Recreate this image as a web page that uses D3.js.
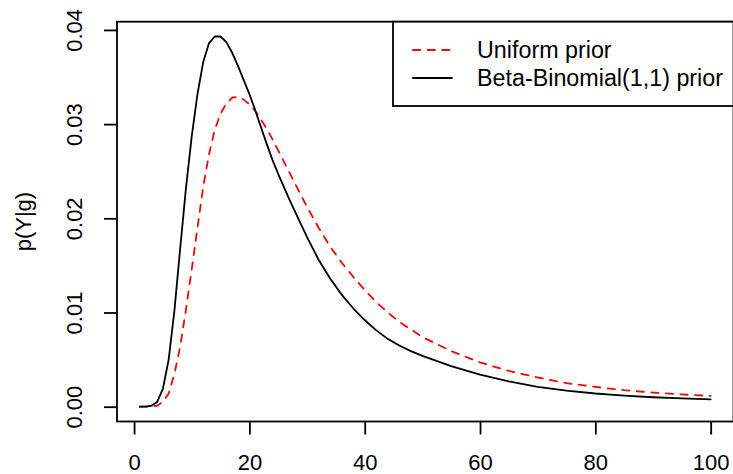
<!DOCTYPE html>
<html>
<head>
<meta charset="utf-8">
<script src="https://cdn.jsdelivr.net/npm/d3@7"></script>
<style>
  html, body { margin: 0; padding: 0; background: #fff; }
  svg { display: block; }
  text { font-family: "Liberation Sans", Arial, Helvetica, sans-serif; }
</style>
</head>
<body>
<svg id="chart" width="733" height="474"></svg>
<script>
// ---- data ----
const gValues = [1,2,3,4,5,6,7,8,9,10,11,12,13,14,15,16,17,18,19,20,21,22,23,24,25,26,27,28,29,30,
  32,34,36,38,40,42,44,46,48,50,55,60,65,70,75,80,85,90,95,100];
const betaBinomial = [0,0,0.0001,0.0005,0.0019,0.0050,0.0102,0.0168,0.0232,0.0287,0.0332,0.0366,0.0386,0.0393,0.0393,
  0.0387,0.0376,0.0362,0.0347,0.0332,0.0315,0.0297,0.0279,0.0262,0.0247,0.0233,0.0219,0.0206,0.0193,0.0180,
  0.0156,0.0136,0.0119,0.01045,0.0092,0.0081,0.0072,0.0065,0.0059,0.0054,
  0.0043,0.0034,0.0027,0.0021,0.0017,0.0014,0.00118,0.00100,0.00088,0.00078];
const uniformPrior = [0,0,0.00002,0.0001,0.0005,0.0014,0.0035,0.0064,0.0103,0.0146,0.0190,0.0234,0.0268,0.0294,0.0311,
  0.0322,0.0328,0.0329,0.0326,0.0321,0.0314,0.0305,0.0295,0.0284,0.0272,0.0260,0.0248,0.0236,0.0224,0.0212,
  0.0190,0.0170,0.0153,0.0138,0.0124,0.0111,0.0100,0.0090,0.0082,0.0074,
  0.0059,0.0047,0.0038,0.0031,0.0025,0.0021,0.00175,0.00150,0.00130,0.00114];
const xTicks = [0,20,40,60,80,100];
const yTicks = [0.00,0.01,0.02,0.03,0.04];
const yTickLabels = ["0.00","0.01","0.02","0.03","0.04"];
const legendLabels = ["Uniform prior","Beta-Binomial(1,1) prior"];
const yTitle = "p(Y|g)";

// ---- layout ----
const svg = d3.select("#chart");
const pLeft = 117, pRight = 733.5, pTop = 21.7, pBottom = 421.5;
const fs = 22;
const legendFs = 23.3;
const lw = 1.8;
const tickLen = 13;

const xExt = d3.extent(gValues), xPad = (xExt[1]-xExt[0])*0.04;
const yMax = d3.max(betaBinomial), yPad = yMax*0.04;
const x = d3.scaleLinear().domain([xExt[0]-xPad, xExt[1]+xPad]).range([pLeft, pRight]);
const y = d3.scaleLinear().domain([0-yPad, yMax+yPad]).range([pBottom, pTop]);

// curves
const line = d3.line().x((d,i)=>x(gValues[i])).y(d=>y(d)).curve(d3.curveLinear);
svg.append("path").attr("d", line(uniformPrior))
  .attr("fill","none").attr("stroke","#ff0000").attr("stroke-width",lw)
  .attr("stroke-dasharray","7.3,7.3").attr("stroke-linecap","round").attr("stroke-linejoin","round");
svg.append("path").attr("d", line(betaBinomial))
  .attr("fill","none").attr("stroke","#000").attr("stroke-width",lw)
  .attr("stroke-linecap","round").attr("stroke-linejoin","round");

// box
svg.append("rect").attr("x",pLeft).attr("y",pTop).attr("width",pRight-pLeft).attr("height",pBottom-pTop)
  .attr("fill","none").attr("stroke","#000").attr("stroke-width",lw);

// x axis
const xAxis = d3.axisBottom(x).tickValues(xTicks).tickSize(tickLen).tickSizeOuter(0).tickFormat(d3.format("d"));
const gx = svg.append("g").attr("transform",`translate(0,${pBottom})`).call(xAxis);
gx.select(".domain").remove();
gx.selectAll(".tick line").attr("stroke","#000").attr("stroke-width",lw);
gx.selectAll(".tick text").attr("font-size",fs).attr("fill","#000")
  .attr("font-family","Liberation Sans, Arial, sans-serif")
  .attr("dy",null).attr("y", 469.5-pBottom);

// y axis
const yAxis = d3.axisLeft(y).tickValues(yTicks).tickSize(tickLen).tickSizeOuter(0)
  .tickFormat((d,i)=>yTickLabels[i]);
const gy = svg.append("g").attr("transform",`translate(${pLeft},0)`).call(yAxis);
gy.select(".domain").remove();
gy.selectAll(".tick line").attr("stroke","#000").attr("stroke-width",lw);
gy.selectAll(".tick text").attr("font-size",fs).attr("fill","#000")
  .attr("font-family","Liberation Sans, Arial, sans-serif")
  .attr("x",0).attr("y",0).attr("dy",null).attr("text-anchor","middle")
  .attr("transform",`translate(${81.5-pLeft},0) rotate(-90)`);

// y title
svg.append("text").attr("transform",`translate(31,${(pTop+pBottom)/2}) rotate(-90)`)
  .attr("text-anchor","middle").attr("font-size",fs).attr("fill","#000").text(yTitle);

// legend
const lg = svg.append("g");
const lgLeft = 393, lgTop = pTop, lgBottom = 106;
lg.append("rect").attr("x",lgLeft).attr("y",lgTop).attr("width",pRight-lgLeft).attr("height",lgBottom-lgTop)
  .attr("fill","#fff").attr("stroke","#000").attr("stroke-width",lw);
const rowsY = [50, 78];
const styles = [{c:"#ff0000",dash:"7.3,7.3"},{c:"#000",dash:null}];
legendLabels.forEach((lab,i)=>{
  lg.append("line").attr("x1",413).attr("x2",452).attr("y1",rowsY[i]).attr("y2",rowsY[i])
    .attr("stroke",styles[i].c).attr("stroke-width",lw).attr("stroke-linecap","round")
    .attr("stroke-dasharray",styles[i].dash);
  lg.append("text").attr("x",477).attr("y",rowsY[i]).attr("dy","0.35em")
    .attr("font-size",legendFs).attr("fill","#000").text(lab);
});
</script>
</body>
</html>
